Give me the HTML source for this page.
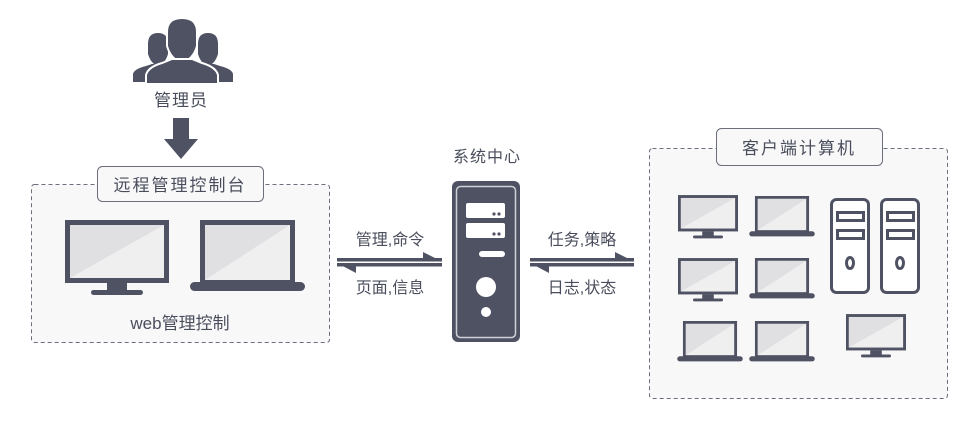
<!DOCTYPE html>
<html><head><meta charset="utf-8"><style>
html,body{margin:0;padding:0;background:#fff;}
svg{display:block;}
text{font-family:"Liberation Sans","Noto Sans CJK SC",sans-serif;fill:#4a4d5c;}
</style></head><body>
<svg width="976" height="424" viewBox="0 0 976 424" xmlns="http://www.w3.org/2000/svg">
<defs>
<symbol id="mon" viewBox="0 0 104 76">
<rect x="0" y="0" width="104" height="63" fill="#4f5263"/>
<rect x="5" y="5" width="94" height="53" fill="#efeff0"/>
<polygon points="5,5 99,5 5,58" fill="#e0e0e2"/>
<rect x="42" y="63" width="20" height="8" fill="#4f5263"/>
<rect x="26" y="70" width="52" height="5" rx="2.5" fill="#4f5263"/>
</symbol>
<symbol id="lap" viewBox="0 0 115 72">
<rect x="10" y="0" width="95" height="64" fill="#4f5263"/>
<rect x="15" y="5" width="85" height="55" fill="#efeff0"/>
<polygon points="15,5 100,5 15,60" fill="#e0e0e2"/>
<rect x="0" y="62" width="115" height="9" rx="4.5" fill="#4f5263"/>
</symbol>
<symbol id="tower" viewBox="0 0 40 96">
<rect x="1.5" y="1.5" width="37" height="93" rx="5" fill="#fff" stroke="#4f5263" stroke-width="3"/>
<rect x="7.5" y="14.5" width="26" height="8" fill="#fff" stroke="#4f5263" stroke-width="3"/>
<rect x="7.5" y="32.5" width="26" height="8" fill="#fff" stroke="#4f5263" stroke-width="3"/>
<ellipse cx="20" cy="65" rx="3.5" ry="5.5" fill="#fff" stroke="#4f5263" stroke-width="3"/>
</symbol>
</defs>

<rect x="31.5" y="184.5" width="298" height="158" rx="3" fill="#f8f8f9" stroke="#6b6e7b" stroke-dasharray="4,3"/>
<rect x="97.5" y="166.5" width="166" height="35" rx="5" fill="#f8f8f9" stroke="#6b6e7b"/>
<text x="180" y="191" font-size="17" text-anchor="middle" letter-spacing="2">远程管理控制台</text>
<use href="#mon" x="65" y="220" width="104" height="76"/>
<use href="#lap" x="190" y="220" width="115" height="72"/>
<text x="180" y="329" font-size="17" text-anchor="middle">web管理控制</text>

<g fill="#4f5263">
<path d="M148,44 Q148,33 158,33 Q168,33 168,44 L168,54 Q165,64 158,66 Q151,64 148,54Z"/>
<path d="M133,82 L133,74 Q134,69 146,66 L152,64 L164,64 L172,67 Q181,69 182,74 L182,82Z"/>
<path d="M198,44 Q198,33 208,33 Q218,33 218,44 L218,54 Q215,64 208,66 Q201,64 198,54Z"/>
<path d="M184,82 L184,74 Q185,69 194,67 L202,64 L214,64 L220,66 Q232,69 233,74 L233,82Z"/>
<path d="M167,32 Q167,18 182,18 Q197,18 197,32 L197,46 Q193,60 182,62 Q171,60 167,46Z" stroke="#fff" stroke-width="2"/>
<path d="M146,84 L146,75 Q148,67 162,63 L172,59 L192,59 L202,63 Q216,67 218,75 L218,84Z" stroke="#fff" stroke-width="2"/>
</g>
<text x="181" y="106" font-size="17" text-anchor="middle" letter-spacing="1">管理员</text>
<rect x="173" y="118" width="16" height="22" fill="#4f5263"/>
<polygon points="164,139 198,139 181,159" fill="#4f5263"/>

<text x="487" y="162" font-size="16" text-anchor="middle" letter-spacing="1">系统中心</text>
<rect x="452" y="181" width="68" height="161" rx="6" fill="#4f5263"/>
<rect x="456.5" y="186.5" width="59" height="151" rx="4" fill="none" stroke="#cfd0d5" stroke-width="1.5"/>
<rect x="466" y="203" width="39" height="15" rx="2" fill="#fff"/>
<rect x="466" y="223" width="39" height="15" rx="2" fill="#fff"/>
<circle cx="494" cy="214" r="1.6" fill="#4f5263"/><circle cx="499" cy="214" r="1.6" fill="#4f5263"/>
<circle cx="494" cy="234" r="1.6" fill="#4f5263"/><circle cx="499" cy="234" r="1.6" fill="#4f5263"/>
<rect x="479" y="251" width="26" height="6" rx="3" fill="#fff"/>
<circle cx="486" cy="287" r="10" fill="#fff"/>
<circle cx="486" cy="312" r="5" fill="#fff"/>

<text x="390" y="245" font-size="16" text-anchor="middle">管理,命令</text>
<rect x="337" y="258" width="105" height="3.5" fill="#4f5263"/>
<polygon points="423,252 442,261.5 423,261.5" fill="#4f5263"/>
<rect x="337" y="263" width="105" height="3.5" fill="#4f5263"/>
<polygon points="337,263 356,263 356,273" fill="#4f5263"/>
<text x="390" y="293" font-size="16" text-anchor="middle">页面,信息</text>

<text x="582" y="245" font-size="16" text-anchor="middle">任务,策略</text>
<rect x="530" y="258" width="104" height="3.5" fill="#4f5263"/>
<polygon points="615,252 634,261.5 615,261.5" fill="#4f5263"/>
<rect x="530" y="263" width="104" height="3.5" fill="#4f5263"/>
<polygon points="530,263 549,263 549,273" fill="#4f5263"/>
<text x="582" y="293" font-size="16" text-anchor="middle">日志,状态</text>

<rect x="649.5" y="148.5" width="298" height="250" rx="3" fill="#f8f8f9" stroke="#6b6e7b" stroke-dasharray="4,3"/>
<rect x="716.5" y="128.5" width="166" height="37" rx="5" fill="#f8f8f9" stroke="#6b6e7b"/>
<text x="799" y="154" font-size="17" text-anchor="middle" letter-spacing="2">客户端计算机</text>

<use href="#mon" x="678" y="195" width="60" height="44"/>
<use href="#lap" x="749" y="196" width="66" height="41"/>
<use href="#mon" x="678" y="258" width="60" height="44"/>
<use href="#lap" x="749" y="258" width="66" height="41"/>
<use href="#lap" x="677" y="321" width="66" height="41"/>
<use href="#lap" x="749" y="321" width="66" height="41"/>
<use href="#tower" x="830" y="198" width="40" height="96"/>
<use href="#tower" x="880" y="198" width="40" height="96"/>
<use href="#mon" x="846" y="314" width="60" height="44"/>
</svg>
</body></html>
